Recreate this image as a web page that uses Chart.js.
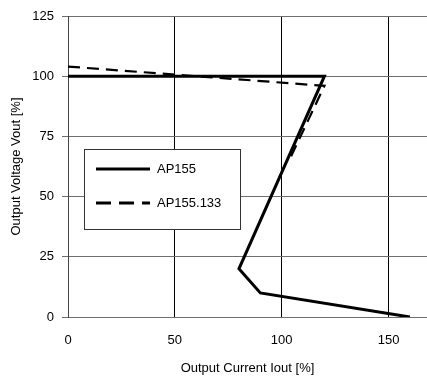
<!DOCTYPE html>
<html>
<head>
<meta charset="utf-8">
<script src="https://cdn.jsdelivr.net/npm/chart.js@4"></script>
<style>
  html, body { margin: 0; padding: 0; background: #fff; }
  #wrap { width: 427px; height: 376px; }
</style>
</head>
<body>
<div id="wrap"><canvas id="chOut" width="427" height="376"></canvas></div>
<script>
// data
var seriesNames = ["AP155", "AP155.133"];
var ap155X = [0, 120, 80, 90, 160];
var ap155Y = [100, 100, 20, 10, 0];
var ap133X = [0, 120, 104];
var ap133Y = [104, 96, 66];
var xTicks = [0, 50, 100, 150];
var yTicks = [0, 25, 50, 75, 100, 125];

function toPoints(xs, ys) {
  return xs.map(function (x, i) { return { x: x, y: ys[i] }; });
}

// legend box drawn inside the plot
var innerLegend = {
  id: "innerLegend",
  afterDatasetsDraw: function (chart) {
    var ctx = chart.ctx;
    var left = 84, top = 149, w = 156, h = 80;
    ctx.save();
    ctx.fillStyle = "#fff";
    ctx.fillRect(left, top, w, h);
    ctx.strokeStyle = "#333";
    ctx.lineWidth = 1;
    ctx.strokeRect(left + 0.5, top + 0.5, w, h);
    ctx.font = "13px 'Liberation Sans', Arial, sans-serif";
    ctx.textBaseline = "middle";
    chart.data.datasets.forEach(function (ds, i) {
      var y = top + 20 + i * 34;
      ctx.beginPath();
      ctx.strokeStyle = "#000";
      ctx.lineWidth = 3;
      ctx.setLineDash(i === 0 ? [] : [15, 8]);
      ctx.moveTo(left + 12, y);
      ctx.lineTo(left + 66, y);
      ctx.stroke();
      ctx.setLineDash([]);
      ctx.fillStyle = "#000";
      ctx.fillText(ds.label, left + 73, y);
    });
    ctx.restore();
  }
};

var chOut = document.getElementById("chOut");
new Chart(chOut, {
  type: "scatter",
  data: {
    datasets: [
      {
        label: seriesNames[0],
        data: toPoints(ap155X, ap155Y),
        showLine: true,
        borderColor: "#000",
        borderWidth: 3,
        pointRadius: 0,
        tension: 0
      },
      {
        label: seriesNames[1],
        data: toPoints(ap133X, ap133Y),
        showLine: true,
        borderColor: "#000",
        borderWidth: 2.2,
        borderDash: [12, 7],
        pointRadius: 0,
        tension: 0
      }
    ]
  },
  options: {
    responsive: false,
    animation: false,
    layout: { padding: { top: 16, right: 0, left: 0, bottom: 0 } },
    plugins: { legend: { display: false }, tooltip: { enabled: false } },
    scales: {
      x: {
        type: "linear",
        min: 0,
        max: 168,
        afterBuildTicks: function (axis) {
          axis.ticks = xTicks.map(function (v) { return { value: v }; });
        },
        afterFit: function (axis) { axis.height = 59; },
        grid: { color: "#000", lineWidth: 1, tickLength: 0 },
        border: { display: false },
        ticks: {
          color: "#000",
          padding: 16,
          maxRotation: 0,
          font: { family: "'Liberation Sans', Arial, sans-serif", size: 13 }
        },
        title: {
          display: true,
          text: "Output Current Iout [%]",
          color: "#000",
          padding: { top: 8, bottom: 0 },
          font: { family: "'Liberation Sans', Arial, sans-serif", size: 13 }
        }
      },
      y: {
        type: "linear",
        min: 0,
        max: 125,
        afterBuildTicks: function (axis) {
          axis.ticks = yTicks.map(function (v) { return { value: v }; });
        },
        afterFit: function (axis) { axis.width = 68; },
        grid: { color: "#6e6e6e", lineWidth: 1, tickLength: 6 },
        border: { display: true, color: "#444", width: 1 },
        ticks: {
          color: "#000",
          padding: 8,
          font: { family: "'Liberation Sans', Arial, sans-serif", size: 13 }
        },
        title: {
          display: true,
          text: "Output Voltage Vout [%]",
          color: "#000",
          padding: { top: 9, bottom: 6 },
          font: { family: "'Liberation Sans', Arial, sans-serif", size: 13 }
        }
      }
    }
  },
  plugins: [innerLegend]
});
</script>
</body>
</html>
